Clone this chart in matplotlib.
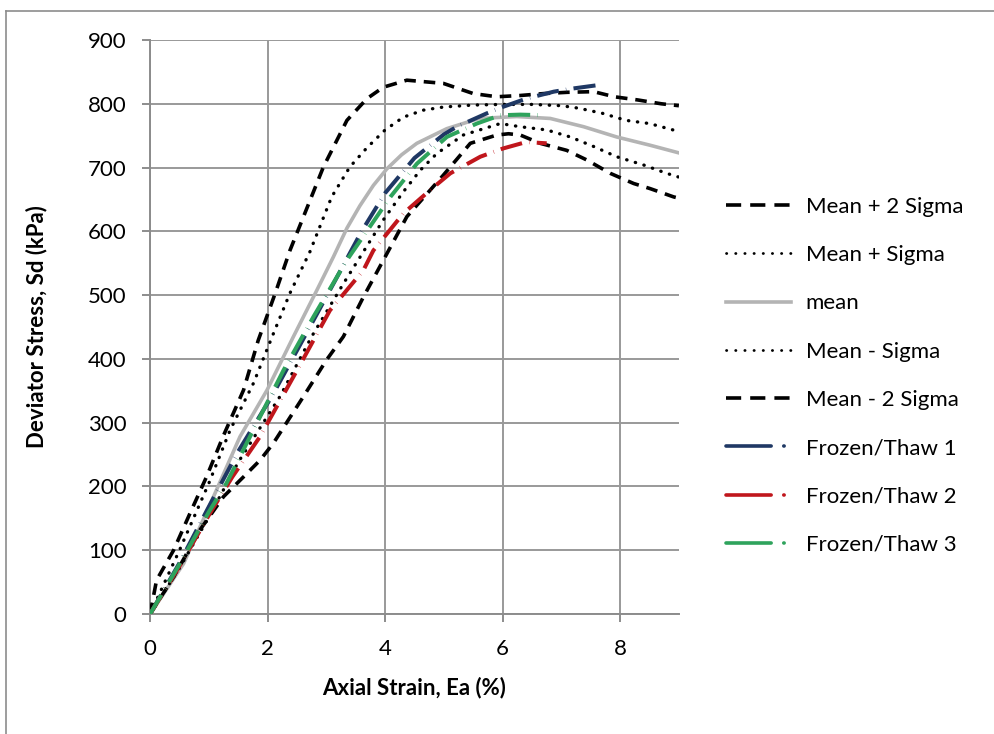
import matplotlib.pyplot as plt
from matplotlib.lines import Line2D

plt.rcParams['font.family'] = ['Lato', 'DejaVu Sans']

# Mean + 2 Sigma
m2p_x = [0, 0.11, 0.40, 0.68, 0.96, 1.25, 1.59, 1.84, 2.13, 2.38, 2.95, 3.35, 3.69, 3.97, 4.37, 4.99,
         5.5, 5.9, 6.3, 6.7, 7.1, 7.55, 7.9, 8.3, 8.7, 9.0]
m2p_y = [0, 53, 100, 158, 215, 280, 351, 429, 503, 570, 701, 774, 808, 826, 837, 832,
         816, 811, 813, 816, 818, 819, 811, 806, 800, 797]
# Mean + Sigma
mp_x = [0, 0.5, 1.0, 1.36, 1.76, 2.10, 2.38, 2.72, 3.09, 3.40, 3.69, 4.0, 4.31, 4.65, 5.0, 5.5,
        6.0, 6.5, 7.0, 7.3, 7.7, 8.1, 8.5, 8.9, 9.0]
mp_y = [0, 100, 205, 288, 362, 440, 503, 568, 654, 701, 731, 759, 779, 790, 795, 798,
        799, 799, 797, 793, 785, 774, 769, 759, 757]
# mean
mean_x = [0, 0.57, 1.08, 1.53, 1.99, 2.44, 2.84, 3.12, 3.35, 3.57, 3.8, 4.03, 4.28, 4.54, 5.05,
          5.6, 6.24, 6.81, 7.38, 7.94, 8.51, 9.0]
mean_y = [0, 79, 184, 278, 351, 435, 508, 560, 605, 640, 672, 698, 720, 738, 761,
          777, 780, 777, 764, 748, 735, 723]
# Mean - Sigma
mm_x = [0, 0.5, 1.0, 1.5, 2.21, 2.75, 3.29, 3.63, 3.97, 4.31, 4.6, 4.88, 5.33, 5.96, 6.3, 6.75,
        7.15, 7.55, 7.94, 8.4, 8.79, 9.0]
mm_y = [0, 72, 152, 238, 341, 435, 518, 568, 618, 662, 696, 722, 751, 769, 764, 759,
        748, 733, 717, 704, 691, 685]
# Mean - 2 Sigma
m2m_x = [0, 0.40, 0.85, 1.25, 1.59, 1.87, 2.10, 2.61, 3.0, 3.29, 3.63, 4.03, 4.37, 4.99, 5.45,
         5.9, 6.1, 6.3, 6.64, 7.09, 7.43, 7.83, 8.23, 8.51, 8.91, 9.0]
m2m_y = [0, 58, 132, 184, 215, 241, 268, 341, 398, 435, 497, 565, 623, 688, 738,
         751, 753, 751, 738, 727, 712, 691, 675, 667, 654, 652]
# Frozen/Thaw 1
ft1_x = [0, 0.5, 0.97, 1.5, 2.07, 2.6, 3.15, 3.6, 4.0, 4.5, 5.0, 5.22, 5.73, 6.0, 6.4, 6.87, 7.2, 7.6]
ft1_y = [0, 80, 163, 255, 341, 430, 523, 600, 660, 715, 752, 764, 785, 795, 808, 819, 824, 829]
# Frozen/Thaw 2
ft2_x = [0, 0.5, 1.0, 1.4, 1.87, 2.50, 3.06, 3.63, 3.8, 4.31, 4.77, 5.11, 5.62, 6.01, 6.4, 6.75]
ft2_y = [0, 75, 155, 215, 278, 382, 476, 539, 570, 628, 665, 691, 717, 730, 740, 738]
# Frozen/Thaw 3
ft3_x = [0, 0.5, 1.0, 1.3, 1.70, 2.27, 2.78, 3.35, 4.09, 4.54, 5.05, 5.56, 5.96, 6.3, 6.7]
ft3_y = [0, 78, 160, 205, 278, 382, 466, 555, 654, 706, 748, 769, 782, 783, 782]

x_ticks = [0, 2, 4, 6, 8]
y_ticks = list(range(0, 1000, 100))

NAVY, RED, GREEN, GREY = '#1f3864', '#c0161c', '#2ea35c', '#b4b4b4'
AXC = '#8c8c8c'
dash = (0, (3.2, 2.2))
dot = (0, (0.1, 2.6))
dashdot = (0, (5.5, 1.8, 0.1, 1.8))

fig = plt.figure(figsize=(9.94, 7.34), dpi=100)
ax = fig.add_axes([0.151, 0.1635, 0.532, 0.782])

ax.plot(m2p_x, m2p_y, color='black', lw=2.6, ls=dash, zorder=3)
ax.plot(mp_x, mp_y, color='black', lw=2.4, ls=dot, dash_capstyle='round', zorder=3)
ax.plot(mean_x, mean_y, color=GREY, lw=2.6, zorder=2)
ax.plot(mm_x, mm_y, color='black', lw=2.4, ls=dot, dash_capstyle='round', zorder=3)
ax.plot(m2m_x, m2m_y, color='black', lw=2.6, ls=dash, zorder=3)
ax.plot(ft1_x, ft1_y, color=NAVY, lw=2.9, ls=dashdot, zorder=4)
ax.plot(ft2_x, ft2_y, color=RED, lw=2.9, ls=dashdot, zorder=4)
ax.plot(ft3_x, ft3_y, color=GREEN, lw=2.9, ls=dashdot, zorder=4)

ax.set_xlim(0, 9)
ax.set_ylim(0, 900)
ax.set_xticks(x_ticks)
ax.set_yticks(y_ticks)
ax.tick_params(length=6, width=1.4, color=AXC, labelsize=16, direction='out')
ax.tick_params(axis='y', pad=11)
ax.tick_params(axis='x', pad=12)
ax.grid(True, color='#999999', lw=1.4)
ax.set_axisbelow(True)
for side in ('top', 'right'):
    ax.spines[side].set_visible(False)
for side in ('left', 'bottom'):
    ax.spines[side].set_color(AXC)
    ax.spines[side].set_linewidth(1.4)
ax.set_xlabel('Axial Strain, Ea (%)', fontsize=16, fontweight='bold', labelpad=13)
ax.set_ylabel('Deviator Stress, Sd (kPa)', fontsize=16, fontweight='bold', labelpad=29)

# legend proxies (Excel style)
leg_dash = (0, (4.2, 2.5))
leg_dot = (0, (0.1, 3.2))
leg_ft = (0, (12.5, 3.5, 0.1, 20))
handles = [
    Line2D([], [], color='black', lw=2.6, ls=leg_dash),
    Line2D([], [], color='black', lw=2.0, ls=leg_dot, dash_capstyle='round'),
    Line2D([], [], color=GREY, lw=2.6),
    Line2D([], [], color='black', lw=2.0, ls=leg_dot, dash_capstyle='round'),
    Line2D([], [], color='black', lw=2.6, ls=leg_dash),
    Line2D([], [], color=NAVY, lw=2.6, ls=leg_ft, dash_capstyle='round'),
    Line2D([], [], color=RED, lw=2.6, ls=leg_ft, dash_capstyle='round'),
    Line2D([], [], color=GREEN, lw=2.6, ls=leg_ft, dash_capstyle='round'),
]
labels = ['Mean + 2 Sigma', 'Mean + Sigma', 'mean', 'Mean - Sigma', 'Mean - 2 Sigma',
          'Frozen/Thaw 1', 'Frozen/Thaw 2', 'Frozen/Thaw 3']
fig.legend(handles, labels, loc='center left', bbox_to_anchor=(0.710, 0.488), frameon=False,
           fontsize=16, handlelength=2.95, handletextpad=0.65, labelspacing=1.27)

# outer chart border
fig.add_artist(Line2D([0.006, 1.0], [0.985, 0.985], color=AXC, lw=1.2))
fig.add_artist(Line2D([0.006, 0.006], [0.0, 0.985], color=AXC, lw=1.2))

fig.savefig('out.png', dpi=100)
